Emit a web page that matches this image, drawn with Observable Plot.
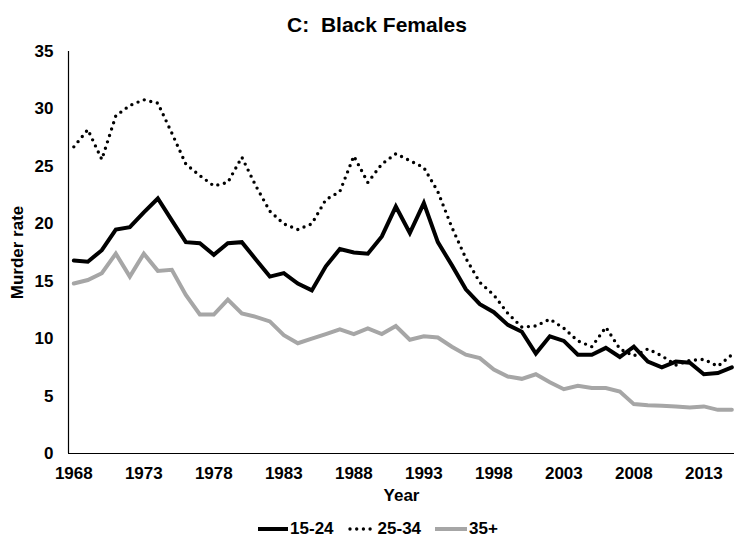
<!DOCTYPE html>
<html>
<head>
<meta charset="utf-8">
<script src="https://cdn.jsdelivr.net/npm/d3@7"></script>
<script src="https://cdn.jsdelivr.net/npm/@observablehq/plot@0.6"></script>
<style>
  html, body { margin: 0; padding: 0; background: #fff; }
  body { font-family: "Liberation Sans", Arial, sans-serif; color: #000; }
  #wrap { position: relative; width: 734px; height: 549px; overflow: hidden; }
  #title { height: 40px; box-sizing: border-box; padding-top: 13px; padding-left: 20px;
           text-align: center; font-weight: bold; font-size: 21px; line-height: 24px; white-space: pre; }
  #chart svg { display: block; }
  #legend { position: absolute; left: 0; top: 518px; width: 734px; height: 22px; box-sizing: border-box;
            padding-left: 22px; display: flex; justify-content: center; align-items: center;
            font-weight: bold; font-size: 17px; line-height: 22px; gap: 14px; }
  #legend .item { display: flex; align-items: center; gap: 2px; }
  #legend svg { display: block; }
</style>
</head>
<body>
<div id="wrap">
  <div id="title">C:  Black Females</div>
  <div id="chart"></div>
  <div id="legend"></div>
</div>
<script>
// ---- data ----
const years = [1968, 1969, 1970, 1971, 1972, 1973, 1974, 1975, 1976, 1977, 1978, 1979,
  1980, 1981, 1982, 1983, 1984, 1985, 1986, 1987, 1988, 1989, 1990, 1991,
  1992, 1993, 1994, 1995, 1996, 1997, 1998, 1999, 2000, 2001, 2002, 2003,
  2004, 2005, 2006, 2007, 2008, 2009, 2010, 2011, 2012, 2013, 2014, 2015];

const age15_24 = [16.8, 16.7, 17.7, 19.5, 19.7, 21.0, 22.2, 20.3, 18.4, 18.3, 17.3, 18.3,
  18.4, 16.9, 15.4, 15.7, 14.8, 14.2, 16.3, 17.8, 17.5, 17.4, 18.9, 21.5,
  19.2, 21.8, 18.4, 16.4, 14.3, 13.0, 12.3, 11.2, 10.6, 8.7, 10.2, 9.8,
  8.6, 8.6, 9.2, 8.4, 9.3, 8.0, 7.5, 8.0, 7.9, 6.9, 7.0, 7.5];

const age25_34 = [26.7, 28.2, 25.6, 29.4, 30.3, 30.8, 30.5, 27.9, 25.2, 24.2, 23.3, 23.6,
  25.8, 23.3, 21.1, 20.0, 19.5, 20.0, 22.1, 22.8, 25.9, 23.6, 25.2, 26.1,
  25.5, 24.9, 22.8, 19.7, 17.0, 14.9, 13.8, 12.2, 11.0, 11.1, 11.7, 10.9,
  9.8, 9.3, 11.0, 9.1, 8.5, 9.1, 8.5, 7.7, 8.1, 8.2, 7.6, 8.6];

const age35plus = [14.8, 15.1, 15.7, 17.4, 15.4, 17.4, 15.9, 16.0, 13.8, 12.1, 12.1, 13.4,
  12.2, 11.9, 11.5, 10.3, 9.6, 10.0, 10.4, 10.8, 10.4, 10.9, 10.4, 11.1,
  9.9, 10.2, 10.1, 9.3, 8.6, 8.3, 7.3, 6.7, 6.5, 6.9, 6.2, 5.6,
  5.9, 5.7, 5.7, 5.4, 4.3, 4.2, 4.15, 4.1, 4.0, 4.1, 3.8, 3.8];

const seriesNames = ["15-24", "25-34", "35+"];
const xTicks = [1968, 1973, 1978, 1983, 1988, 1993, 1998, 2003, 2008, 2013];
const yTicks = [0, 5, 10, 15, 20, 25, 30, 35];

// ---- build tables ----
const toRows = (vals) => years.map((year, i) => ({year, rate: vals[i]}));
const rows1 = toRows(age15_24);
const rows2 = toRows(age25_34);
const rows3 = toRows(age35plus);

const xDomain = [1967.62, 2015.19];
const font = "'Liberation Sans', Arial, sans-serif";

const chart = Plot.plot({
  width: 734,
  height: 470,
  marginTop: 11,
  marginBottom: 57,
  marginLeft: 68,
  marginRight: 0,
  style: {fontFamily: font, fontSize: "17px", fontWeight: "bold", color: "#000", background: "#fff", overflow: "visible"},
  x: {domain: xDomain},
  y: {domain: [0, 35]},
  marks: [
    Plot.axisX({ticks: xTicks, tickSize: 0, tickPadding: 13, tickFormat: d => String(d),
      label: "Year", labelAnchor: "center", labelOffset: 47, labelArrow: "none",
      fontSize: 17, fontWeight: "bold", fill: "#000"}),
    Plot.axisY({ticks: yTicks, tickSize: 0, tickPadding: 15,
      label: "Murder rate", labelAnchor: "center", labelOffset: 58, labelArrow: "none",
      fontSize: 17, fontWeight: "bold", fill: "#000"}),
    Plot.ruleY([0], {stroke: "#000", strokeWidth: 1.2}),
    Plot.ruleX([xDomain[0]], {stroke: "#000", strokeWidth: 1.2}),
    Plot.lineY(rows1, {x: "year", y: "rate", stroke: "#000", strokeWidth: 4, strokeLinejoin: "miter", strokeMiterlimit: 4}),
    Plot.lineY(rows2, {x: "year", y: "rate", stroke: "#000", strokeWidth: 3.4, strokeLinecap: "round", strokeDasharray: "0 6.7"}),
    Plot.lineY(rows3, {x: "year", y: "rate", stroke: "#A6A6A6", strokeWidth: 4, strokeLinejoin: "miter", strokeMiterlimit: 4})
  ]
});
document.getElementById("chart").appendChild(chart);

// ---- legend ----
const legendStyles = [
  {stroke: "#000", width: 4, dash: null, cap: "butt", len: 30},
  {stroke: "#000", width: 3.4, dash: "0 6.7", cap: "round", len: 28},
  {stroke: "#A6A6A6", width: 4, dash: null, cap: "butt", len: 32}
];
const legend = document.getElementById("legend");
seriesNames.forEach((name, i) => {
  const s = legendStyles[i];
  const item = document.createElement("span");
  item.className = "item";
  const x1 = s.dash ? 2 : 0;
  const x2 = s.dash ? s.len - 2 : s.len;
  item.innerHTML = `<svg width="${s.len}" height="10"><line x1="${x1}" y1="5" x2="${x2}" y2="5" stroke="${s.stroke}" stroke-width="${s.width}" stroke-linecap="${s.cap}" ${s.dash ? `stroke-dasharray="${s.dash}"` : ""}/></svg><span>${name}</span>`;
  legend.appendChild(item);
});
</script>
</body>
</html>
